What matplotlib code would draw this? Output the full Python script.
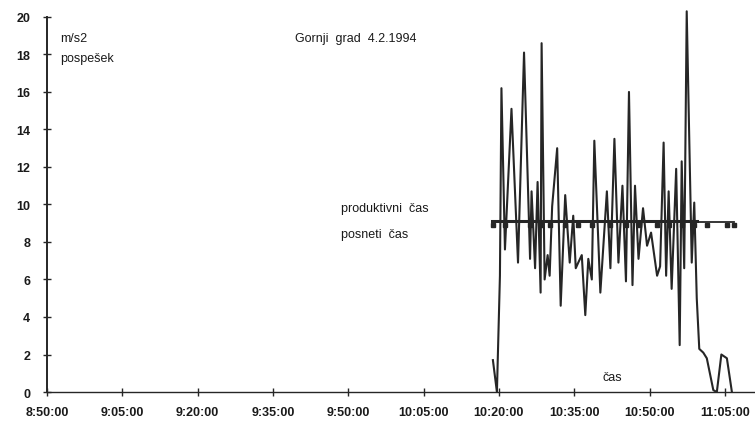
import matplotlib
matplotlib.use("Agg")
import matplotlib.pyplot as plt

plt.rcParams['font.family'] = ['Liberation Sans', 'DejaVu Sans']

# minutes after 8:50:00 and acceleration (m/s2)
t_min = [88.8, 89.6, 90.2, 90.5, 91.2, 92.5, 93.8, 95.0, 96.2, 96.5,
         97.2, 97.7, 98.3, 98.5, 99.1, 99.7, 100.1, 100.6, 101.6, 102.3,
         103.2, 104.1, 104.8, 105.3, 105.8, 106.5, 107.2, 107.8, 108.5, 109.0,
         110.2, 111.5, 112.2, 113.0, 113.8, 114.6, 115.3, 115.9, 116.6, 117.1,
         117.8, 118.7, 119.5, 120.3, 121.5, 122.1, 122.8, 123.3, 123.8, 124.4,
         125.3, 126.0, 126.4, 126.9, 127.4, 128.4, 128.9, 129.4, 129.9, 130.7,
         131.4, 132.7, 133.4, 134.3, 135.4, 136.4]
pospesek = [1.7, 0.0, 6.2, 16.2, 7.6, 15.1, 6.9, 18.1, 7.1, 10.7,
            6.6, 11.2, 5.3, 18.6, 6.0, 7.3, 6.2, 9.9, 13.0, 4.6,
            10.5, 6.9, 9.4, 6.6, 6.9, 7.3, 4.1, 7.1, 6.0, 13.4,
            5.3, 10.7, 6.6, 13.5, 6.9, 11.0, 5.9, 16.0, 5.7, 11.0,
            7.1, 9.8, 7.8, 8.5, 6.2, 6.7, 13.3, 6.2, 10.7, 5.5,
            11.9, 2.5, 12.3, 6.6, 20.3, 6.9, 10.1, 5.0, 2.3, 2.1,
            1.8, 0.1, 0.0, 2.0, 1.8, 0.0]

# level lines
produktivni_t = [88.6, 129.5]
produktivni_val = 9.12
posneti_t = [88.6, 136.9]
posneti_val = 9.05

tick_min = [0, 15, 30, 45, 60, 75, 90, 105, 120, 135]
tick_labels = ['8:50:00', '9:05:00', '9:20:00', '9:35:00', '9:50:00',
               '10:05:00', '10:20:00', '10:35:00', '10:50:00', '11:05:00']

ink = '#262626'

fig = plt.figure(figsize=(7.55, 4.27), dpi=100)
ax = fig.add_axes([0.0623, 0.0796, 0.9377, 0.896])

ax.plot(t_min, pospesek, color=ink, lw=1.5)
ax.plot(produktivni_t, [produktivni_val] * 2, color=ink, lw=2.2)
ax.plot(posneti_t, [posneti_val] * 2, color=ink, lw=1.3)
mark_t = t_min[::4] + [posneti_t[1]]
ax.plot(mark_t, [posneti_val - 0.12] * len(mark_t),
        ls='none', marker='s', ms=2.2, color=ink)

ax.set_xlim(0, 141)
ax.set_ylim(0, 20.4)
ax.set_xticks(tick_min)
ax.set_xticklabels(tick_labels)
ax.set_yticks(range(0, 21, 2))

for s in ['top', 'right']:
    ax.spines[s].set_visible(False)
ax.spines['left'].set_bounds(0, 20)
ax.spines['left'].set_color(ink)
ax.spines['bottom'].set_color(ink)
ax.spines['left'].set_linewidth(1.4)
ax.spines['bottom'].set_linewidth(1.0)

ax.tick_params(axis='both', direction='inout', length=6, width=1.0, color=ink,
               labelsize=9, labelcolor='#1a1a1a')
ax.tick_params(axis='y', pad=9)
ax.tick_params(axis='x', pad=7)
for lab in ax.get_xticklabels() + ax.get_yticklabels():
    lab.set_fontweight('bold')

txt = dict(fontsize=9, color='#1a1a1a', va='center', ha='left')
ax.text(2.6, 18.9, 'm/s2', **txt)
ax.text(2.6, 17.8, 'pospešek', **txt)
ax.text(49.4, 18.9, 'Gornji  grad  4.2.1994', **txt)
ax.text(58.6, 9.8, 'produktivni  čas', **txt)
ax.text(58.6, 8.4, 'posneti  čas', **txt)
ax.text(112.5, 0.8, 'čas', fontsize=9, color='#1a1a1a', va='center', ha='center')

fig.savefig('out.png', dpi=100)
